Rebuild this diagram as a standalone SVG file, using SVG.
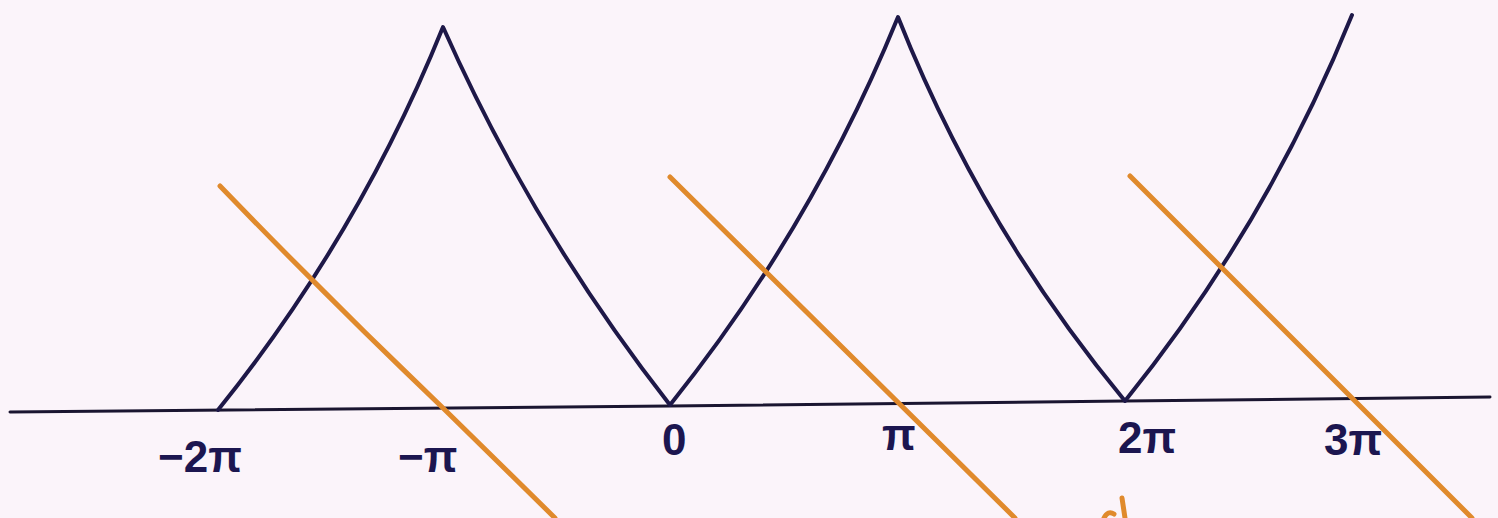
<svg xmlns="http://www.w3.org/2000/svg" width="1498" height="518" viewBox="0 0 1498 518">
<style>
.ink{fill:none;stroke:#1e1848;stroke-width:4;stroke-linecap:round;stroke-linejoin:round}
.axis{fill:none;stroke:#1a1530;stroke-width:3;stroke-linecap:round}
.or{fill:none;stroke:#e08a2c;stroke-width:5;stroke-linecap:round}
.lbl{font-family:"Liberation Sans",Arial,sans-serif;font-weight:bold;font-size:44px;fill:#1c1650}
</style>
<rect width="1498" height="518" fill="#fbf4fa"/>
<g id="axis"><path class="axis" d="M10,412 L670,406 L1125,401 L1490,397"/></g>
<g id="curve"><path class="ink" d="M218,410 Q359,235 443,27 Q533,230 670,405 Q812,228 898,17 Q981,227 1125,401 Q1267,225 1352,15"/></g>
<g id="lines">
<path class="or" d="M220,186 Q330,300 443,408 L555,518"/>
<path class="or" d="M670,177 L1015,518"/>
<path class="or" d="M1130,176 L1472,518"/>
<path class="or" d="M1122,498 L1125,518 M1104,518 Q1108,510 1114,514"/>
</g>
<g id="labels">
<text class="lbl" x="158" y="472">−2π</text>
<text class="lbl" x="398" y="472">−π</text>
<text class="lbl" x="662" y="455">0</text>
<text class="lbl" x="882" y="450">π</text>
<text class="lbl" x="1118" y="453">2π</text>
<text class="lbl" x="1324" y="455">3π</text>
</g>
</svg>
